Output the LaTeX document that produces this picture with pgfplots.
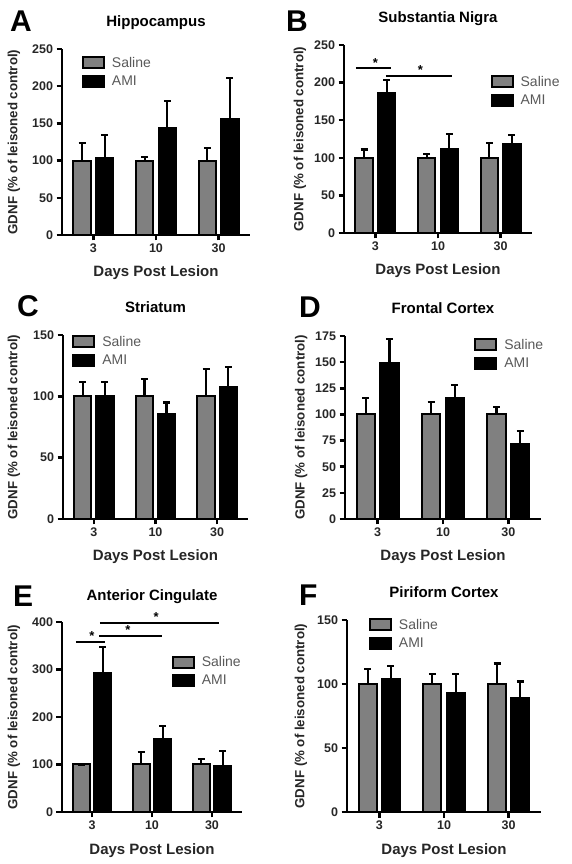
\documentclass[border=0pt]{standalone}
\usepackage{fontspec}
\setmainfont{Liberation Sans}
\usepackage{pgfplots}
\pgfplotsset{compat=1.18}
\usepackage{pgfplotstable}

% xs/xa = bar positions (group 0,1,2 -/+ 0.18); errors = top of error bar minus mean
\pgfplotstableread{
xs xa sal salE ami amiE
-0.18 0.18 100 24 104 30
0.82 1.18 100 5 144 36
1.82 2.18 100 17 156 55
}\dataA
\pgfplotstableread{
xs xa sal salE ami amiE
-0.18 0.18 100 11 186 17
0.82 1.18 100 5 112 20
1.82 2.18 100 20 118 12
}\dataB
\pgfplotstableread{
xs xa sal salE ami amiE
-0.18 0.18 100 12 100 12
0.82 1.18 100 14 86 9
1.82 2.18 100 22 108 16
}\dataC
\pgfplotstableread{
xs xa sal salE ami amiE
-0.18 0.18 100 16 149 23
0.82 1.18 100 12 116 12
1.82 2.18 100 7 72 12
}\dataD
\pgfplotstableread{
xs xa sal salE ami amiE
-0.18 0.18 100 0 293 54
0.82 1.18 100 26 153 28
1.82 2.18 100 11 97 31
}\dataE
\pgfplotstableread{
xs xa sal salE ami amiE
-0.18 0.18 100 12 104 10
0.82 1.18 100 8 93 15
1.82 2.18 100 16 89 13
}\dataF

\definecolor{salgray}{HTML}{808080}

\pgfplotsset{
 panel/.style={
  scale only axis, axis lines*=left, xmin=-0.5, xmax=2.5, ymin=0,
  xtick={0,1,2}, xticklabels={3,10,30},
  axis line style={line width=2.8pt},
  tick style={line width=2.5pt, black}, major tick length=5.5pt, tick align=outside,
  ticklabel style={font=\bfseries\fontsize{12.5}{14}\selectfont, text=black!85},
  /pgf/number format/assume math mode=true,
  xlabel={Days Post Lesion}, ylabel={GDNF (\% of leisoned control)},
  xlabel style={font=\bfseries\fontsize{15}{17}\selectfont, text=black!85, at={(axis description cs:0.5,0)}, anchor=base, yshift=-42pt},
  ylabel style={font=\bfseries\fontsize{13.3}{15}\selectfont, text=black!85, anchor=center},
  title style={font=\bfseries\fontsize{15}{16}\selectfont, at={(axis description cs:0.5,1)}, anchor=base, yshift=16pt},
  clip=false,
  legend image code/.code={\draw[#1, line width=2pt] (0pt,-5.5pt) rectangle (21pt,5.5pt); \path (26pt,0pt);},
  legend cell align=left,
  legend style={draw=none, fill=none, anchor=north west, inner sep=0pt, outer sep=0pt, row sep=3pt,
    font=\fontsize{14}{15}\selectfont, text=black!65},
 },
 bar/.style={ybar, bar width=0.28, bar shift=0pt, draw=black, line width=2pt},
 errs/.style={error bars/.cd, y dir=plus, y explicit,
   error bar style={line width=2.2pt, black},
   error mark options={line width=2.2pt, mark size=3.5pt, black, rotate=90}},
 sig/.style={black, line width=2pt, forget plot},
}
\newcommand{\letter}[3]{\node[anchor=base west, inner sep=0pt, font=\bfseries\fontsize{30}{32}\selectfont, xshift=#2, yshift=#3] at (rel axis cs:0,1) {#1};}
\newcommand{\sigstar}[2]{\node[anchor=base, inner sep=0pt, font=\bfseries\fontsize{13}{14}\selectfont, yshift=1pt] at (axis cs:#1,#2) {*};}
\newcommand{\bars}[1]{%
\addplot[bar, fill=salgray, errs] table[x=xs,y=sal,y error=salE]{#1};
\addplot[bar, fill=black, errs] table[x=xa,y=ami,y error=amiE]{#1};
\legend{Saline,AMI}}

\begin{document}
\begin{tikzpicture}
\useasboundingbox (0,0) rectangle (572pt,864pt);

% A
\begin{axis}[panel, at={(62pt,629pt)}, anchor=south west, width=188pt, height=186pt,
  ymax=250, ytick={0,50,100,150,200,250}, title={Hippocampus},
  ylabel style={at={(axis description cs:-0.255,0.5)}},
  legend style={at={(0.106,0.968)}}]
\bars{\dataA}
\letter{A}{-52pt}{17pt}
\end{axis}

% B
\begin{axis}[panel, at={(344pt,631pt)}, anchor=south west, width=188pt, height=188pt,
  ymax=250, ytick={0,50,100,150,200,250}, title={Substantia Nigra},
  ylabel style={at={(axis description cs:-0.234,0.5)}},
  legend style={at={(0.78,0.846)}}]
\bars{\dataB}
\addplot[sig] coordinates {(-0.31,219) (0.25,219)};
\addplot[sig] coordinates {(0.17,209) (1.22,209)};
\sigstar{0.0}{219}
\sigstar{0.72}{209}
\letter{B}{-58pt}{13pt}
\end{axis}

% C
\begin{axis}[panel, at={(63pt,345pt)}, anchor=south west, width=185pt, height=184pt,
  ymax=150, ytick={0,50,100,150}, title={Striatum},
  ylabel style={at={(axis description cs:-0.265,0.5)}},
  legend style={at={(0.05,1.005)}}]
\bars{\dataC}
\letter{C}{-46pt}{18pt}
\end{axis}

% D
\begin{axis}[panel, at={(345pt,345pt)}, anchor=south west, width=196pt, height=183pt,
  ymax=175, ytick={0,25,50,75,100,125,150,175}, title={Frontal Cortex},
  ylabel style={at={(axis description cs:-0.224,0.5)}},
  legend style={at={(0.66,0.995)}}]
\bars{\dataD}
\letter{D}{-46pt}{18pt}
\end{axis}

% E
\begin{axis}[panel, at={(62pt,52pt)}, anchor=south west, width=180pt, height=190pt,
  ymax=400, ytick={0,100,200,300,400}, title={Anterior Cingulate},
  ylabel style={at={(axis description cs:-0.267,0.5)}},
  legend style={at={(0.61,0.83)}}]
\bars{\dataE}
\addplot[sig] coordinates {(-0.27,358) (0.22,358)};
\addplot[sig] coordinates {(0.12,371) (1.17,371)};
\addplot[sig] coordinates {(0.13,398.5) (2.12,398.5)};
\sigstar{0.0}{358}
\sigstar{0.6}{371}
\sigstar{1.07}{398.5}
\letter{E}{-49pt}{16pt}
\end{axis}

% F
\begin{axis}[panel, at={(347pt,52pt)}, anchor=south west, width=194pt, height=192pt,
  ymax=150, ytick={0,50,100,150}, title={Piriform Cortex},
  ylabel style={at={(axis description cs:-0.237,0.5)}},
  legend style={at={(0.113,1.016)}}]
\bars{\dataF}
\letter{F}{-48pt}{14pt}
\end{axis}
\end{tikzpicture}
\end{document}
